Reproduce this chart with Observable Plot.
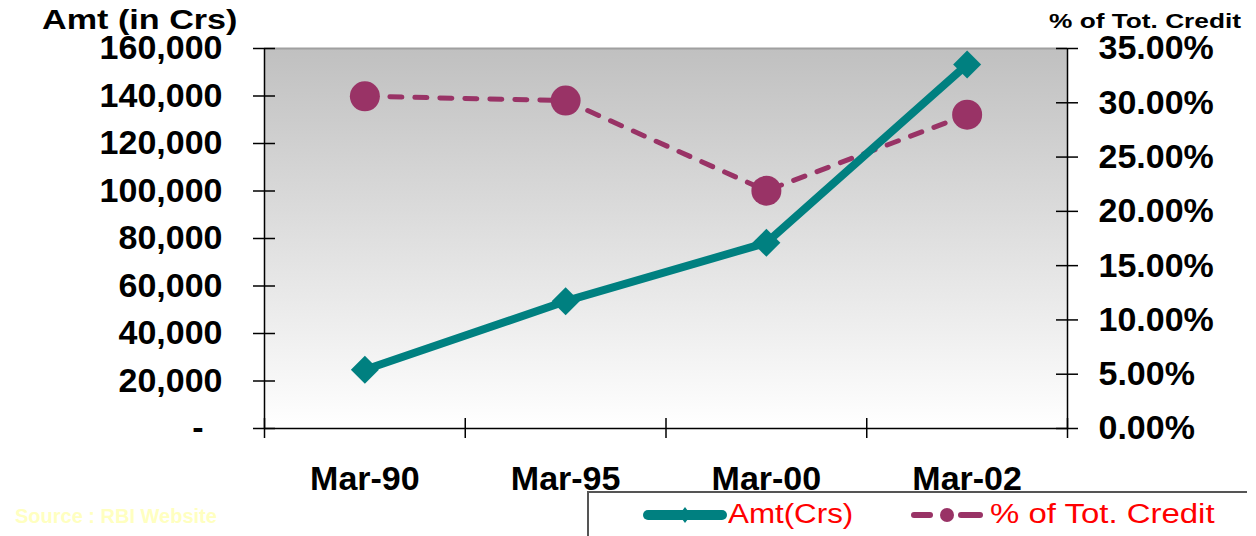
<!DOCTYPE html>
<html>
<head>
<meta charset="utf-8">
<script src="https://cdn.jsdelivr.net/npm/d3@7"></script>
<script src="https://cdn.jsdelivr.net/npm/@observablehq/plot@0.6"></script>
<style>
  html, body { margin: 0; padding: 0; background: #ffffff; }
  #wrap { position: relative; width: 1256px; height: 536px; overflow: hidden; font-family: "Liberation Sans", Arial, sans-serif; }
  .abs { position: absolute; white-space: nowrap; line-height: 1; transform-origin: left center; }
</style>
</head>
<body>
<div id="wrap">
  <div id="chart"></div>
  <div class="abs" id="ltitle" style="left:42px; top:6px; font-size:28px; font-weight:bold; color:#000; transform:scaleX(1.22);">Amt (in Crs)</div>
  <div class="abs" id="rtitle" style="left:1049px; top:10px; font-size:21px; font-weight:bold; color:#000; transform:scaleX(1.25);">% of Tot. Credit</div>
  <div class="abs" id="source" style="left:15px; top:506px; font-size:20px; font-weight:bold; color:#ffffc0;">Source : RBI Website</div>
  <div id="legendbox" style="position:absolute; left:587px; top:491px; width:660px; height:60px; border-top:2px solid #555; border-left:2px solid #555; box-sizing:border-box;"></div>
  <svg class="abs" style="left:642px; top:505px;" width="86" height="20">
    <line x1="6" y1="10" x2="80" y2="10" stroke="#008080" stroke-width="10" stroke-linecap="round"/>
    <path d="M43,2 L49,10 L43,18 L37,10 Z" fill="#008080"/>
  </svg>
  <div class="abs" id="leg1" style="left:728px; top:501px; font-size:27px; color:#ff0000; transform:scaleX(1.16);">Amt(Crs)</div>
  <svg class="abs" style="left:908px; top:505px;" width="80" height="20">
    <line x1="6" y1="10" x2="22" y2="10" stroke="#993366" stroke-width="6" stroke-linecap="round"/>
    <circle cx="39" cy="10" r="7" fill="#993366"/>
    <line x1="53" y1="10" x2="72" y2="10" stroke="#993366" stroke-width="6" stroke-linecap="round"/>
  </svg>
  <div class="abs" id="leg2" style="left:990px; top:501px; font-size:27px; color:#ff0000; transform:scaleX(1.22);">% of Tot. Credit</div>
</div>
<script>
// ---- data ----
const categories = ["Mar-90", "Mar-95", "Mar-00", "Mar-02"];
const amtValues = [24700, 53600, 78200, 153300];
const pctValues = [30.6, 30.2, 21.9, 28.9];
const amtTicks = [0, 20000, 40000, 60000, 80000, 100000, 120000, 140000, 160000];
const pctTicks = [0, 5, 10, 15, 20, 25, 30, 35];
const amtMax = 160000;
const pctMax = 35;

const toAmt = p => p / pctMax * amtMax;
const rows = categories.map((c, i) => ({i, cat: c, amt: amtValues[i], pctY: toAmt(pctValues[i])}));
const xDomain = [-0.5, categories.length - 0.5];
const boundaries = d3.range(categories.length + 1).map(i => i - 0.5);
const fmtAmt = d => d === 0 ? "-\u00a0\u00a0" : d3.format(",")(d);
const fmtPct = d => (d / amtMax * pctMax).toFixed(2) + "%";

const teal = "#008080";
const purple = "#993366";
const font = {fontSize: 34, fontWeight: "bold", fill: "#000"};

const svg = Plot.plot({
  width: 1256,
  height: 536,
  marginTop: 48,
  marginBottom: 108,
  marginLeft: 264,
  marginRight: 189,
  style: {fontFamily: "'Liberation Sans', Arial, sans-serif", background: "transparent", overflow: "visible"},
  x: {type: "linear", domain: xDomain, axis: null},
  y: {domain: [0, amtMax], axis: null},
  marks: [
    Plot.frame({fill: "url(#bgGrad)", stroke: "none"}),
    Plot.ruleY([amtMax], {stroke: "#a0a0a0", strokeWidth: 2}),
    Plot.ruleY([0], {stroke: "#000", strokeWidth: 1.5}),
    Plot.ruleX(xDomain, {stroke: "#000", strokeWidth: 1.5}),
    // crossing ticks
    Plot.ruleY(amtTicks, {x1: xDomain[0], x2: xDomain[0], insetLeft: -11, insetRight: -11, stroke: "#000", strokeWidth: 1.5}),
    Plot.ruleY(pctTicks.map(toAmt), {x1: xDomain[1], x2: xDomain[1], insetLeft: -11, insetRight: -11, stroke: "#000", strokeWidth: 1.5}),
    Plot.ruleX(boundaries, {y1: 0, y2: 0, insetTop: -10, insetBottom: -10, stroke: "#000", strokeWidth: 1.5}),
    // axis labels
    Plot.axisY(amtTicks, {anchor: "left", tickSize: 0, tickPadding: 42, tickFormat: fmtAmt, label: null, ...font}),
    Plot.axisY(pctTicks.map(toAmt), {anchor: "right", tickSize: 0, tickPadding: 31, tickFormat: fmtPct, label: null, ...font}),
    Plot.axisX(d3.range(categories.length), {anchor: "bottom", tickSize: 0, tickPadding: 37, tickFormat: i => categories[i], label: null, ...font}),
    // series
    Plot.line(rows, {x: "i", y: "pctY", stroke: purple, strokeWidth: 5, strokeDasharray: "12,13", strokeLinecap: "round"}),
    Plot.line(rows, {x: "i", y: "amt", stroke: teal, strokeWidth: 8}),
    Plot.dot(rows, {x: "i", y: "amt", symbol: "diamond2", r: 12.6, fill: teal, stroke: "none"}),
    Plot.dot(rows, {x: "i", y: "pctY", symbol: "circle", r: 15, fill: purple, stroke: "none"})
  ]
});

const defs = d3.select(svg).insert("defs", ":first-child");
const grad = defs.append("linearGradient").attr("id", "bgGrad").attr("x1", 0).attr("y1", 0).attr("x2", 0).attr("y2", 1);
grad.append("stop").attr("offset", "0%").attr("stop-color", "#c0c0c0");
grad.append("stop").attr("offset", "100%").attr("stop-color", "#ffffff");

document.getElementById("chart").appendChild(svg);
</script>
</body>
</html>
